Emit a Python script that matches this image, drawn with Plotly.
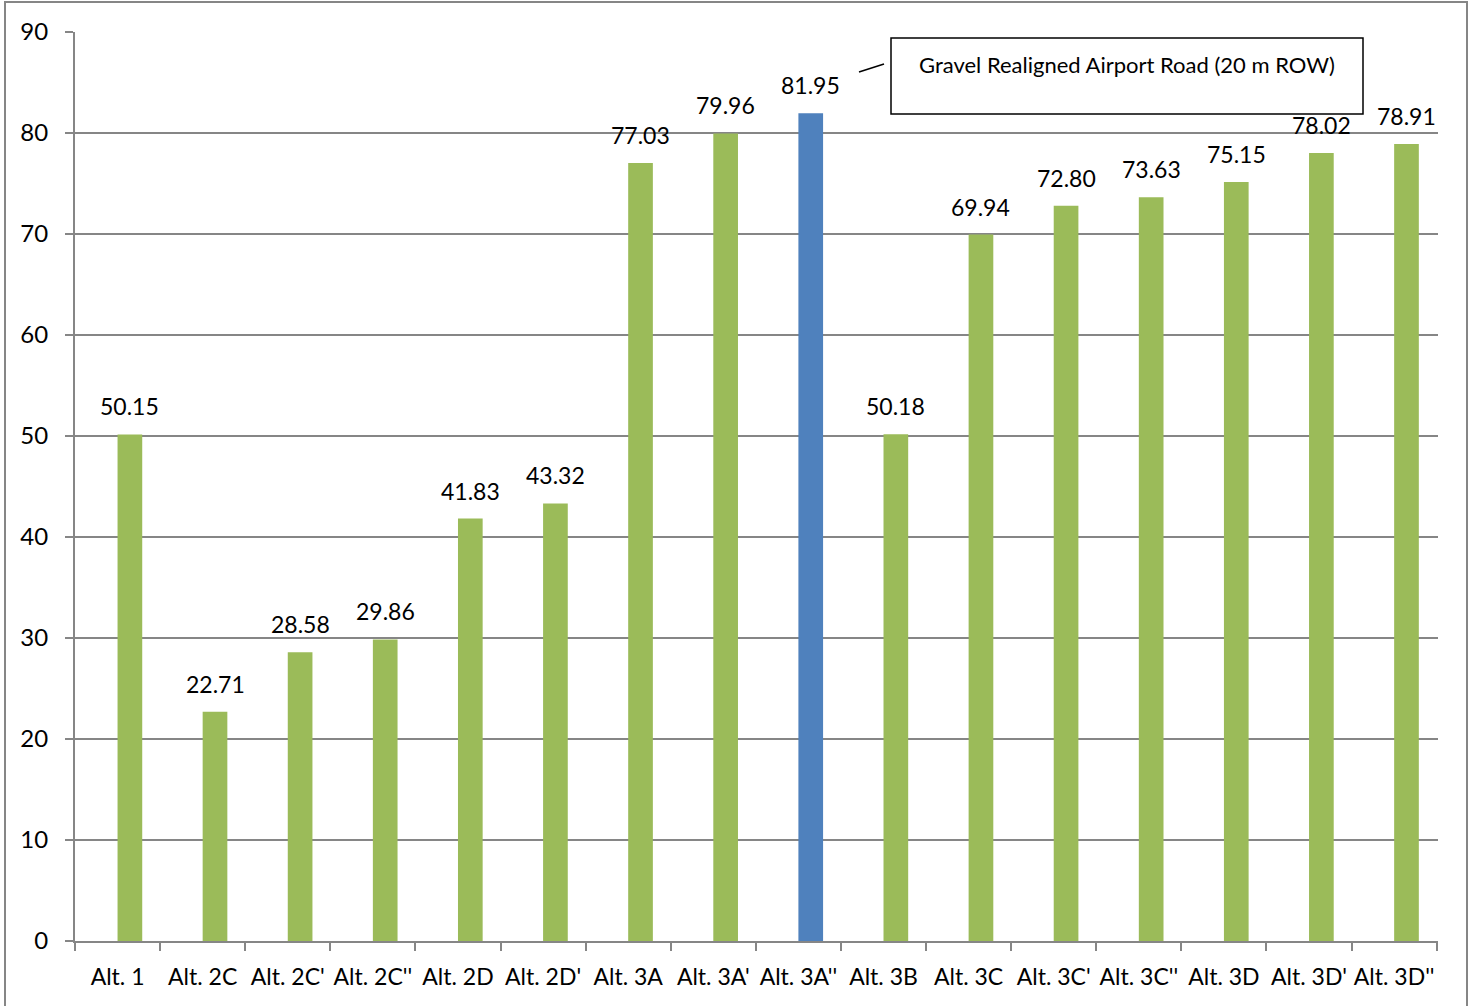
import plotly.graph_objects as go

# Alternatives and their scores
categories = ["Alt. 1", "Alt. 2C", "Alt. 2C'", "Alt. 2C''", "Alt. 2D", "Alt. 2D'",
              "Alt. 3A", "Alt. 3A'", "Alt. 3A''", "Alt. 3B", "Alt. 3C", "Alt. 3C'",
              "Alt. 3C''", "Alt. 3D", "Alt. 3D'", "Alt. 3D''"]
values = [50.15, 22.71, 28.58, 29.86, 41.83, 43.32, 77.03, 79.96, 81.95, 50.18,
          69.94, 72.80, 73.63, 75.15, 78.02, 78.91]
highlight = "Alt. 3A''"
callout_text = "Gravel Realigned Airport Road (20 m ROW)"

GREEN = "#9BBB59"
BLUE = "#4F81BD"
GRID = "#868686"
FONT = "Lato, 'Open Sans', sans-serif"

W, H = 1473, 1006
L, R, T, B = 75, 35, 32, 65
PW, PH = W - L - R, H - T - B
BAR_W = 0.29
CAT_PX = PW / len(categories)


def px(x):
    return (x - L) / PW


def py(y):
    return (H - B - y) / PH


colors = [BLUE if c == highlight else GREEN for c in categories]

# bars sit just right of each category centre
fig = go.Figure(go.Bar(
    x=categories, y=values,
    marker=dict(color=colors, line=dict(width=0)),
    width=BAR_W, offset=0.0,
))

# value labels above each bar
value_labels = [
    dict(x=c, y=v, xref="x", yref="y", text=f"{v:.2f}", showarrow=False,
         xanchor="center", yanchor="bottom", xshift=BAR_W / 2 * CAT_PX, yshift=12,
         font=dict(size=23, color="black", family=FONT))
    for c, v in zip(categories, values)
]

fig.update_layout(
    width=W, height=H,
    margin=dict(l=L, r=R, t=T, b=B, autoexpand=False),
    paper_bgcolor="white", plot_bgcolor="white",
    showlegend=False,
    font=dict(family=FONT, size=22, color="black"),
    xaxis=dict(
        tickson="boundaries", ticks="outside", ticklen=8, tickcolor=GRID, tickwidth=2,
        showline=True, linecolor=GRID, linewidth=2,
        showgrid=False, tickfont=dict(size=23), ticklabelstandoff=14,
        tickangle=0, automargin=False,
    ),
    yaxis=dict(
        range=[0, 90], dtick=10, ticks="outside", ticklen=8, tickcolor=GRID, tickwidth=2,
        showline=True, linecolor=GRID, linewidth=2,
        showgrid=True, gridcolor=GRID, gridwidth=2,
        tickfont=dict(size=24), ticklabelstandoff=12,
        zeroline=False, automargin=False,
    ),
    shapes=[
        # outer chart frame
        dict(type="rect", xref="paper", yref="paper",
             x0=px(5), x1=px(1467), y0=py(1012), y1=py(2),
             line=dict(color=GRID, width=2)),
        # callout box
        dict(type="rect", xref="paper", yref="paper",
             x0=px(891), x1=px(1363), y0=py(114), y1=py(38),
             line=dict(color="black", width=1.5), fillcolor="white"),
        # callout leader
        dict(type="line", xref="paper", yref="paper",
             x0=px(859), x1=px(884), y0=py(72), y1=py(64),
             line=dict(color="black", width=1.5)),
    ],
    annotations=value_labels + [
        dict(text=callout_text, xref="paper", yref="paper",
             x=px(1127), y=py(64), showarrow=False,
             font=dict(size=22, color="black", family=FONT),
             xanchor="center", yanchor="middle"),
    ],
)

fig.write_html("out.html")
